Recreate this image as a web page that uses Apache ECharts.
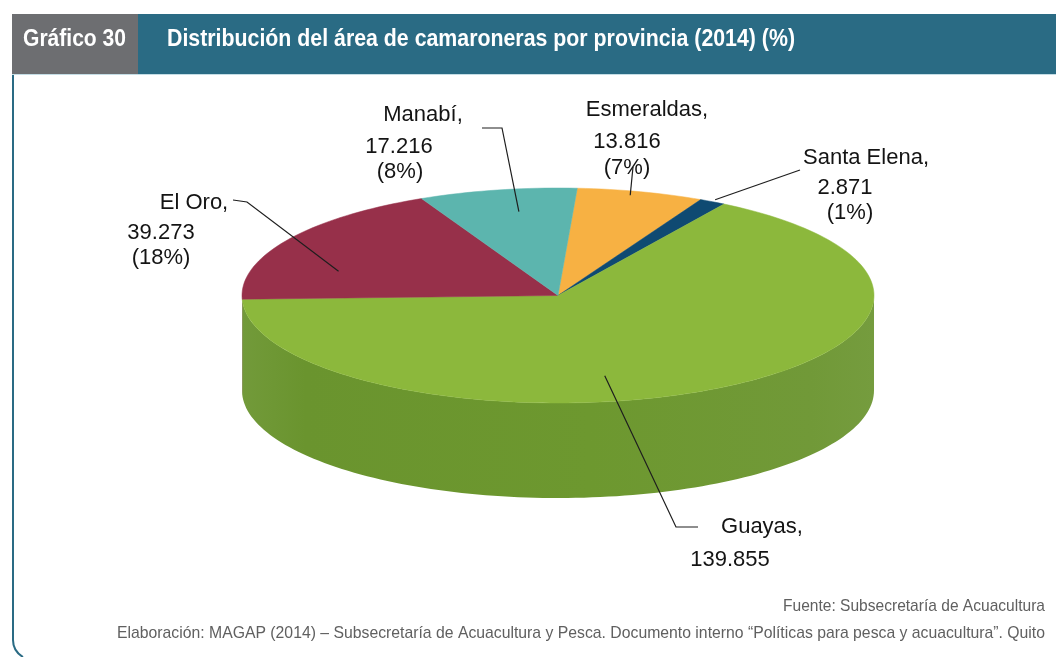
<!DOCTYPE html>
<html>
<head>
<meta charset="utf-8">
<script src="https://cdn.jsdelivr.net/npm/echarts@6/dist/echarts.min.js"></script>
<style>
  html, body { margin: 0; padding: 0; background: #ffffff; }
  #chart { width: 1056px; height: 657px; }
</style>
</head>
<body>
<div id="chart"></div>
<script>
// Shrimp farm area by province, 2014 (hectares), in clockwise order from the top
const provinces = ['Esmeraldas', 'Santa Elena', 'Guayas', 'El Oro', 'Manabí'];
const areas = [13816, 2871, 139855, 39273, 17216];
const shareLabels = ['(7%)', '(1%)', '', '(18%)', '(8%)'];

const titleTag = 'Gráfico 30';
const titleText = 'Distribución del área de camaroneras por provincia (2014) (%)';
const sourceText = 'Fuente: Subsecretaría de Acuacultura';
const creditText = 'Elaboración: MAGAP (2014) – Subsecretaría de Acuacultura y Pesca. Documento interno “Políticas para pesca y acuacultura”. Quito';

// ---- styling & layout ----
const topColors  = ['#f7b143', '#0f4a72', '#8cb83c', '#97304a', '#5cb5ae'];
const sideColors = ['#c98c2c', '#0a3350', '#6a942e', '#6e2236', '#3f8c86'];
const PIE = { cx: 558, cy: 295.5, rx: 316, ry: 107.5, depth: 95, startDeg: 3.5 };

// label placement per slice: anchor inside slice (fraction of its sweep, radius fraction),
// leader bends, and the text lines' centres
const labelLayout = [
  { at: 0.44, r: 0.96, bends: [[633, 167]], lines: [[647, 110], [627, 142], [627, 168]] },
  { at: 0.48, r: 1.02, bends: [[800, 170]], lines: [[866, 158], [845, 188], [850, 213]] },
  { at: 0.58, r: 0.76, bends: [[676, 527], [698, 527]], lines: [[762, 527], [730, 560]] },
  { at: 0.30, r: 0.73, bends: [[247, 202], [233, 200]], lines: [[194, 203], [161, 233], [161, 258]] },
  { at: 0.57, r: 0.79, bends: [[502, 128], [482, 128]], lines: [[423, 115], [399, 147], [400, 172]] }
];

const total = areas.reduce((a, b) => a + b, 0);
const startAngles = [];
areas.reduce((acc, v, i) => { startAngles[i] = acc; return acc + v / total * 360; }, PIE.startDeg);

function fmtThousands(v) {
  return String(v).replace(/\B(?=(\d{3})+(?!\d))/g, '.');
}
function pt(deg, r, dz) {
  const t = deg * Math.PI / 180;
  return [PIE.cx + PIE.rx * r * Math.sin(t), PIE.cy - PIE.ry * r * Math.cos(t) + (dz || 0)];
}
function sweep(api, i) {
  const a0 = startAngles[i];
  return [a0, a0 + api.value(0) / total * 360];
}

const measureCtx = document.createElement('canvas').getContext('2d');
function fitScale(text, font, width) {
  measureCtx.font = font;
  return width / measureCtx.measureText(text).width;
}

// side wall (only the front half, 90°..270°, is visible)
function renderSide(params, api) {
  const i = params.dataIndex;
  const [a0, a1] = sweep(api, i);
  const lo = Math.max(a0, 90), hi = Math.min(a1, 270);
  if (hi <= lo) return null;
  const n = Math.max(2, Math.ceil((hi - lo) / 1.5));
  const top = [], bottom = [];
  for (let k = 0; k <= n; k++) {
    const a = lo + (hi - lo) * k / n;
    top.push(pt(a, 1, 0));
    bottom.push(pt(a, 1, PIE.depth));
  }
  const c = sideColors[i];
  return {
    type: 'polygon',
    shape: { points: top.concat(bottom.reverse()) },
    style: {
      fill: {
        type: 'linear', x: 0, y: 0, x2: 1, y2: 0,
        colorStops: [
          { offset: 0, color: echarts.color.lift(c, 0.06) },
          { offset: 0.1, color: c },
          { offset: 0.55, color: echarts.color.lift(c, -0.03) },
          { offset: 0.9, color: echarts.color.lift(c, 0.05) },
          { offset: 1, color: echarts.color.lift(c, 0.08) }
        ]
      }
    }
  };
}

// top face of each slice
function renderTop(params, api) {
  const i = params.dataIndex;
  const [a0, a1] = sweep(api, i);
  const n = Math.max(2, Math.ceil((a1 - a0) / 1.5));
  const pts = [[PIE.cx, PIE.cy]];
  for (let k = 0; k <= n; k++) pts.push(pt(a0 + (a1 - a0) * k / n, 1, 0));
  return {
    type: 'polygon',
    shape: { points: pts },
    style: { fill: topColors[i], stroke: topColors[i], lineWidth: 0.5 }
  };
}

// leader line and stacked label text
const labelFont = '22px "Liberation Sans", Arial, sans-serif';
function renderLabel(params, api) {
  const i = params.dataIndex;
  const [a0, a1] = sweep(api, i);
  const L = labelLayout[i];
  const anchor = pt(a0 + (a1 - a0) * L.at, L.r, 0);
  const texts = [provinces[i] + ',', fmtThousands(api.value(0))];
  if (shareLabels[i]) texts.push(shareLabels[i]);
  const children = [{
    type: 'polyline',
    shape: { points: [anchor].concat(L.bends) },
    style: { stroke: '#1e1e1e', lineWidth: 1.2, fill: null }
  }];
  texts.forEach((t, k) => {
    children.push({
      type: 'text',
      style: {
        text: t, x: L.lines[k][0], y: L.lines[k][1], font: labelFont, fill: '#141414',
        align: 'center', verticalAlign: 'middle', textAlign: 'center', textVerticalAlign: 'middle'
      }
    });
  });
  return { type: 'group', children: children };
}

const seriesData = areas.map((v, i) => ({ name: provinces[i], value: [v] }));

const headerFont = 'bold 24px "Liberation Sans Narrow", "Liberation Sans", Arial, sans-serif';
const footFont = '17px "Liberation Sans Narrow", "Liberation Sans", Arial, sans-serif';

function fittedText(text, font, x, y, width, align, fill) {
  return {
    type: 'text', x: x, y: y, scaleX: fitScale(text, font, width), silent: true, z: 10,
    style: {
      text: text, x: 0, y: 0, font: font, fill: fill,
      align: align, verticalAlign: 'middle', textAlign: align, textVerticalAlign: 'middle'
    }
  };
}

const chart = echarts.init(document.getElementById('chart'), null, { renderer: 'canvas' });
chart.setOption({
  animation: false,
  backgroundColor: '#ffffff',
  graphic: [
    { type: 'rect', shape: { x: 12, y: 14, width: 126, height: 60 }, style: { fill: '#6d6e71' }, silent: true },
    { type: 'rect', shape: { x: 138, y: 14, width: 918, height: 60 }, style: { fill: '#2a6b84' }, silent: true },
    { type: 'line', shape: { x1: 12, y1: 74.5, x2: 1056, y2: 74.5 }, style: { stroke: '#c4dde5', lineWidth: 1 }, silent: true },
    { type: 'line', shape: { x1: 13, y1: 75, x2: 13, y2: 640 }, style: { stroke: '#2a6b84', lineWidth: 2 }, silent: true },
    { type: 'bezierCurve', shape: { x1: 13, y1: 640, cpx1: 13, cpy1: 651, x2: 23, y2: 657 }, style: { stroke: '#2a6b84', lineWidth: 2, fill: null }, silent: true },
    fittedText(titleTag, headerFont, 23, 39, 103, 'left', '#ffffff'),
    fittedText(titleText, headerFont, 167, 39, 628, 'left', '#ffffff'),
    fittedText(sourceText, footFont, 1045, 606, 262, 'right', '#606060'),
    fittedText(creditText, footFont, 1045, 633, 928, 'right', '#606060')
  ],
  series: [
    { type: 'custom', coordinateSystem: 'none', silent: true, data: seriesData, renderItem: renderSide },
    { type: 'custom', coordinateSystem: 'none', silent: true, data: seriesData, renderItem: renderTop },
    { type: 'custom', coordinateSystem: 'none', silent: true, data: seriesData, renderItem: renderLabel }
  ]
});
</script>
</body>
</html>
